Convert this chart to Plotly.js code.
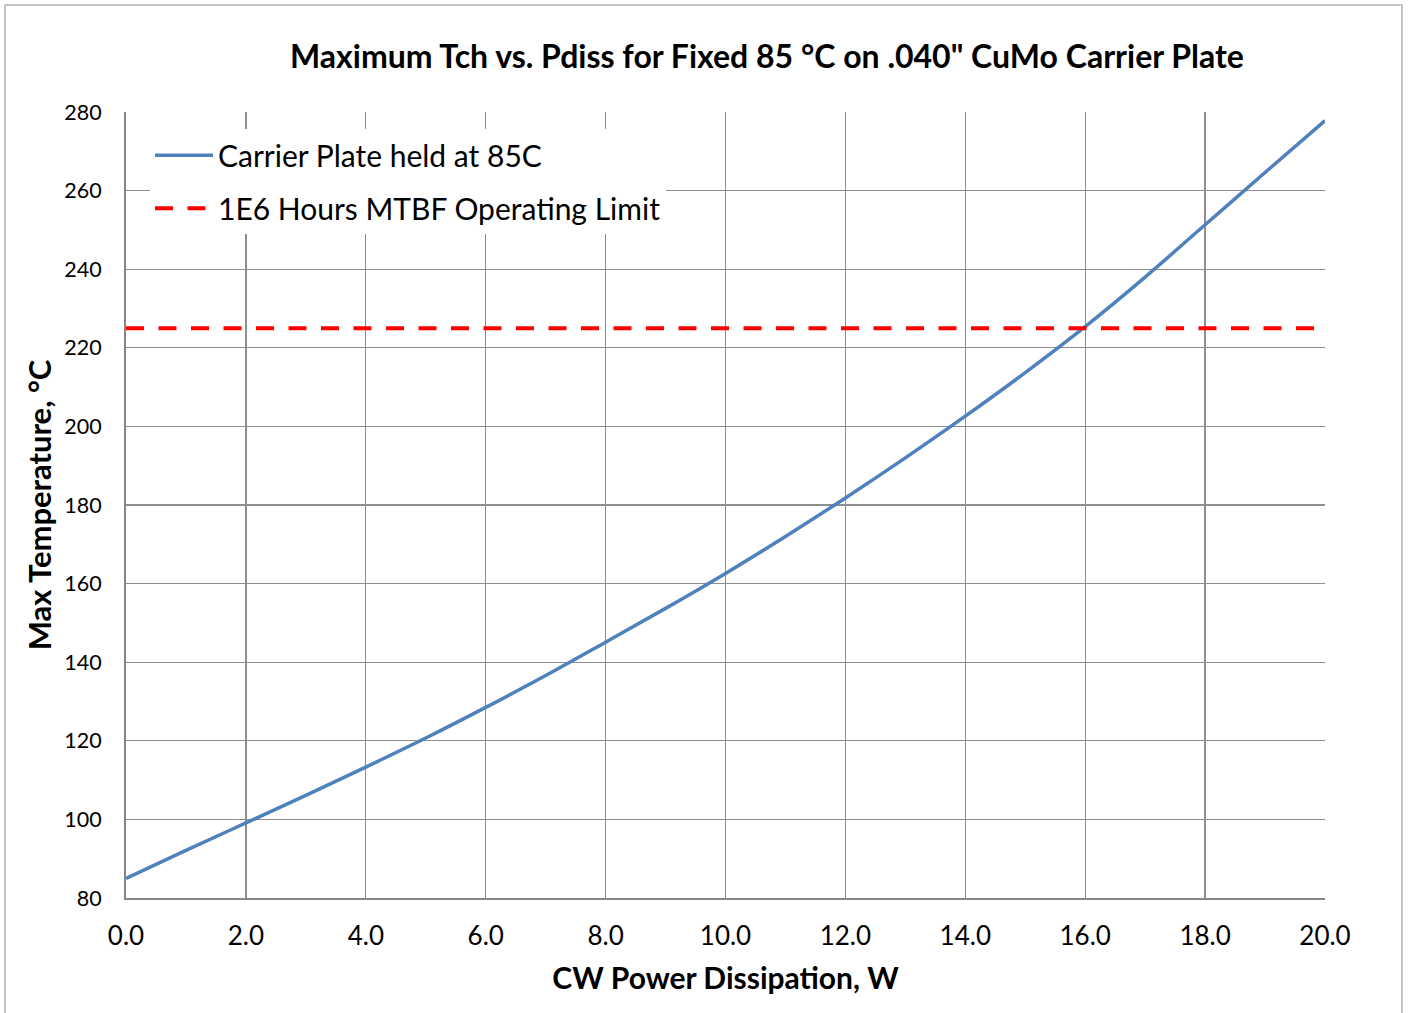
<!DOCTYPE html>
<html>
<head>
<meta charset="utf-8">
<script src="https://cdn.plot.ly/plotly-3.0.1.min.js"></script>
<style>
html,body{margin:0;padding:0;background:#fff;}
#chart{width:1408px;height:1013px;}
</style>
</head>
<body>
<div id="chart"></div>
<script>
// Data
const powerW = [0,1,2,3,4,5,6,7,8,9,10,11,12,13,14,15,16,17,18,19,20];
const maxTempC = [85.0,92.1,99.1,106.1,113.3,120.7,128.5,136.6,145.1,153.7,162.6,172.0,181.8,192.0,202.6,213.7,225.4,238.0,251.3,264.6,277.8];
const limitX = [0, 20];
const limitY = [225, 225];
const seriesNames = ["Carrier Plate held at 85C", "1E6 Hours MTBF Operating Limit"];
const xTickVals = [0,2,4,6,8,10,12,14,16,18,20];
const yTickVals = [80,100,120,140,160,180,200,220,240,260,280];

const FONT = "Lato, 'Open Sans', sans-serif";

const traces = [
  {
    x: powerW, y: maxTempC, name: seriesNames[0], type: 'scatter', mode: 'lines',
    line: {color: '#4f81bd', width: 3.5, shape: 'spline', smoothing: 1},
    legendgroup: 'a'
  },
  {
    x: limitX, y: limitY, name: seriesNames[1], type: 'scatter', mode: 'lines',
    line: {color: '#ff0000', width: 4, dash: '18px,14.5px'},
    legendgroup: 'b'
  }
];

const layout = {
  width: 1408, height: 1013,
  paper_bgcolor: '#ffffff', plot_bgcolor: '#ffffff',
  margin: {l: 126, r: 83, t: 112, b: 115, pad: 0},
  font: {family: FONT, color: '#000000'},
  title: {
    text: 'Maximum Tch vs. Pdiss for Fixed 85 °C on .040" CuMo Carrier Plate',
    font: {family: FONT, size: 32, weight: 'bold', color: '#000'},
    xref: 'container', x: 0.5447, xanchor: 'center',
    yref: 'container', y: 0.944, yanchor: 'middle'
  },
  xaxis: {
    range: [0, 20], tickvals: xTickVals, tickformat: '.1f',
    showgrid: true, gridcolor: '#8e8e8e', gridwidth: 1.3,
    showline: true, linecolor: '#868686', linewidth: 2,
    zeroline: false, ticks: '', ticklabelstandoff: 14,
    tickfont: {family: FONT, size: 26, color: '#000'},
    title: {text: 'CW Power Dissipation, W', standoff: 18,
            font: {family: FONT, size: 30, weight: 'bold', color: '#000'}},
    automargin: false, fixedrange: true
  },
  yaxis: {
    range: [80, 280], tickvals: yTickVals,
    showgrid: true, gridcolor: '#8e8e8e', gridwidth: 1.3,
    showline: true, linecolor: '#868686', linewidth: 2,
    zeroline: false, ticks: '', ticklabelstandoff: 18,
    tickfont: {family: FONT, size: 21.5, color: '#000'},
    title: {text: 'Max Temperature, °C', standoff: 3,
            font: {family: FONT, size: 31, weight: 'bold', color: '#000'}},
    automargin: false, fixedrange: true
  },
  showlegend: true,
  legend: {
    x: 0.02, y: 0.978, xanchor: 'left', yanchor: 'top',
    bgcolor: '#ffffff', borderwidth: 0,
    font: {family: FONT, size: 30, color: '#000'},
    traceorder: 'grouped', tracegroupgap: 11, itemwidth: 58
  },
  shapes: [
    {type: 'rect', xref: 'paper', yref: 'paper',
     x0: -0.1009, x1: 1.0642, y0: -0.17, y1: 1.1361,
     line: {color: '#b3b3b3', width: 1.5}, fillcolor: 'rgba(0,0,0,0)', layer: 'below'}
  ]
};

Plotly.newPlot('chart', traces, layout, {displayModeBar: false, staticPlot: true});
</script>
</body>
</html>
